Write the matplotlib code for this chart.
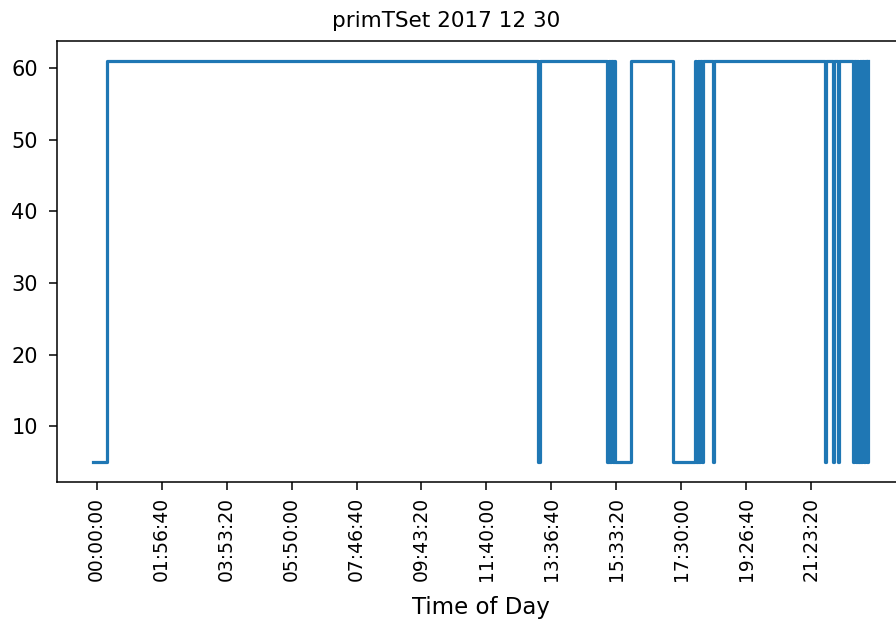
import matplotlib
matplotlib.use("Agg")
import matplotlib.pyplot as plt
from matplotlib.ticker import FuncFormatter

# seconds since midnight where primTSet changes, and the value it takes from there on
change_times = [
    -345, 1100,
    47600, 47760,
    55010, 55150, 55300, 55450, 55600, 55750, 55840,
    57560,
    62115,
    64452, 64600, 64750, 64900, 65050, 65200, 65350, 65529,
    66420, 66560,
    78450, 78560,
    79300, 79420, 79850, 79960,
    81470, 81600, 81750, 81900, 82050, 82200, 82350, 82500, 82650, 82800, 82950, 83060,
]
change_values = [
    5, 61,
    5, 61,
    5, 61, 5, 61, 5, 61, 5,
    61,
    5,
    61, 5, 61, 5, 61, 5, 61, 61,
    5, 61,
    5, 61,
    5, 61, 5, 61,
    5, 61, 5, 61, 5, 61, 5, 61, 5, 61, 5, 61,
]
tick_seconds = [0, 7000, 14000, 21000, 28000, 35000, 42000, 49000, 56000, 63000, 70000, 77000]


def hms(x, pos):
    x = int(round(x))
    return f"{x // 3600:02d}:{(x % 3600) // 60:02d}:{x % 60:02d}"


fig = plt.figure(figsize=(8.96, 6.23), dpi=100)
ax = fig.add_axes([0.0633, 0.2263, 0.948, 0.7079])

ax.step(change_times, change_values, where="post", color="#1f77b4", linewidth=2.3)

ax.set_xlim(-4290, 87200)
ax.set_xticks(tick_seconds)
ax.xaxis.set_major_formatter(FuncFormatter(hms))
ax.tick_params(axis="x", labelrotation=90, labelsize=13.5, pad=5)
ax.tick_params(axis="y", labelsize=15, pad=8)
ax.tick_params(length=5.5, width=1.1)
for sp in ax.spines.values():
    sp.set_linewidth(1.1)

ax.set_xlabel("Time of Day", fontsize=16.5, labelpad=11)
ax.set_title("primTSet 2017 12 30", fontsize=15.5, pad=10, x=0.458)

fig.savefig("out.png", dpi=100)
plt.close()
